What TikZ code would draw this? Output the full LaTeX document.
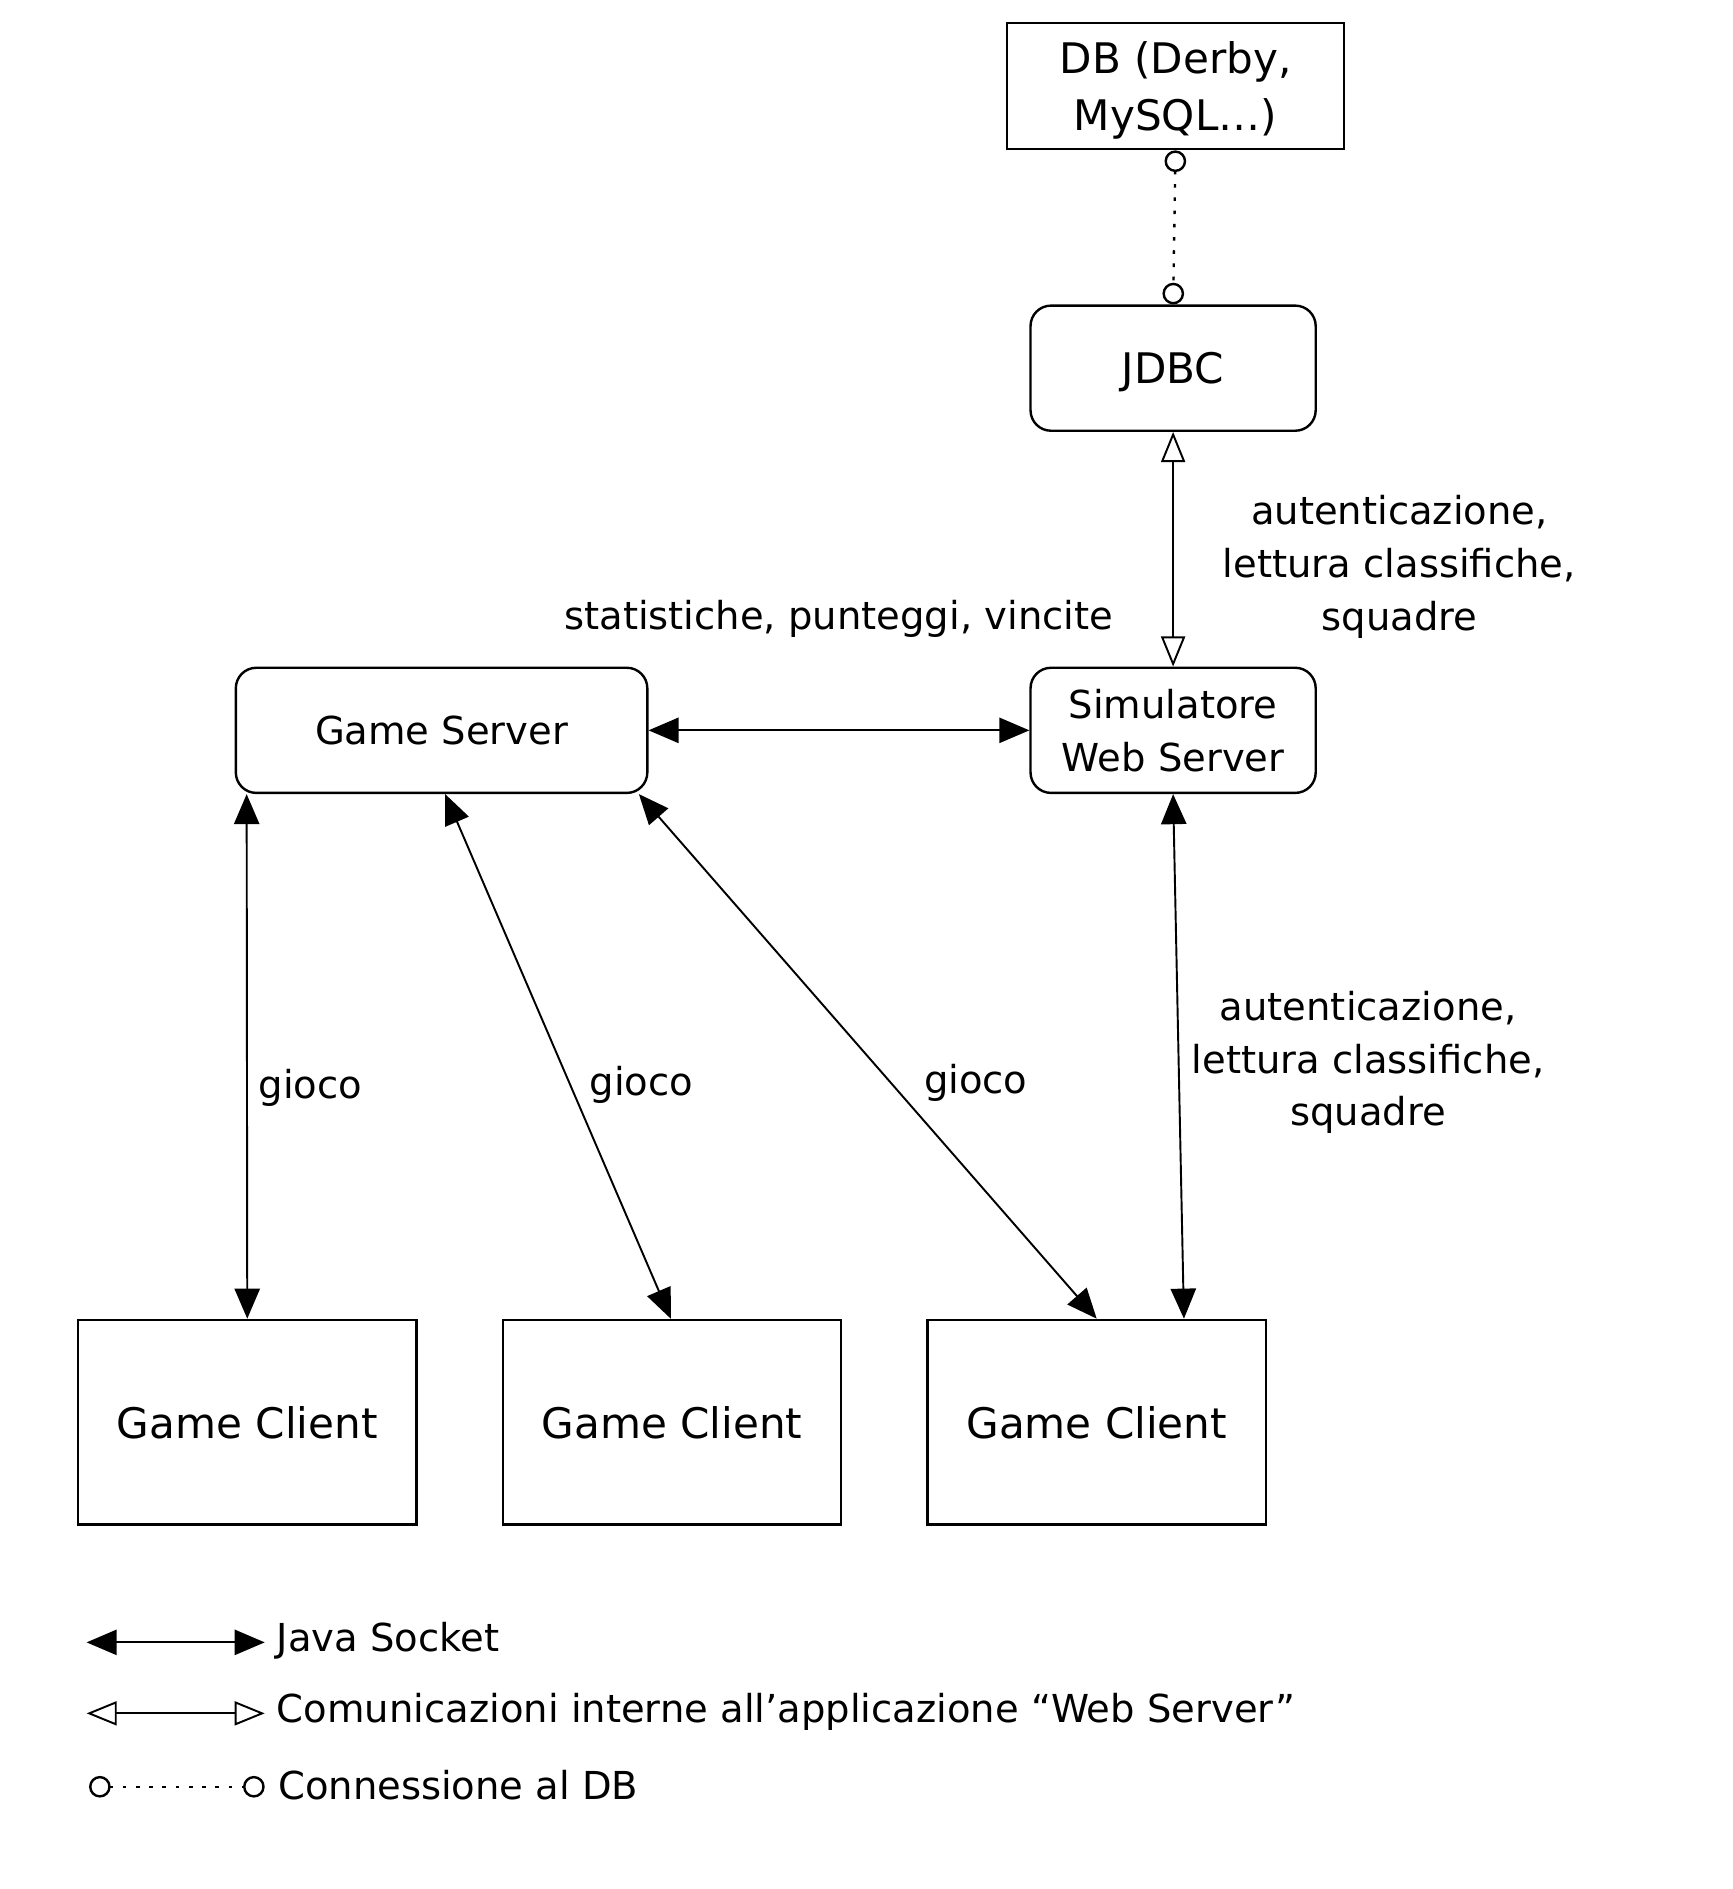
\documentclass[tikz,border=0pt]{standalone}
\usepackage{fontspec}
\setmainfont{DejaVu Sans}
\usetikzlibrary{arrows.meta}

\tikzset{
    box/.style={draw,line width=2pt,inner sep=0pt,align=center,text depth=0pt},
    rbox/.style={box,rounded corners=17pt},
    small/.style={font=\fontsize{32}{44}\selectfont},
    big/.style={font=\fontsize{35}{47}\selectfont},
    lbl/.style={small,align=center,inner sep=0pt},
    socket/.style={{Triangle[length=25pt,width=21pt]}-{Triangle[length=25pt,width=21pt]},line width=1.6pt},
    internal/.style={{Triangle[open,length=25pt,width=20pt]}-{Triangle[open,length=25pt,width=20pt]},line width=1.6pt},
    dbconn/.style={{Circle[open,length=18pt]}-{Circle[open,length=18pt]},line width=2pt,dash pattern=on 3pt off 8pt}
}

\begin{document}
\begin{tikzpicture}[x=1pt,y=-1pt]
    \useasboundingbox (0,0) rectangle (1440,1570);

    % server side
    \node[box,big,minimum width=280pt,minimum height=105pt] (db) at (977,71.5) {DB (Derby,\\MySQL\ldots)};
    \node[rbox,big,minimum width=237pt,minimum height=104pt] (jdbc) at (975,306) {JDBC};
    \node[rbox,small,minimum width=237pt,minimum height=104pt] (sim) at (975,607) {Simulatore\\Web Server};
    \node[rbox,small,minimum width=342pt,minimum height=104pt] (gs) at (367,607) {Game Server};

    % clients
    \foreach \i/\x in {1/205.5,2/558.5,3/911.5}
    {
        \node[box,big,minimum width=281pt,minimum height=170pt] (gc\i) at (\x,1182) {Game Client};
    };

    \draw[dbconn] (db.south) -- (jdbc.north);
    \draw[internal] (jdbc.south) -- (sim.north);
    \draw[socket] (gs.east) -- (sim.west);
    \draw[socket] ([xshift=10pt]gs.south west) -- (gc1.north);
    \draw[socket] ([xshift=3pt]gs.south) -- ([xshift=-1pt]gc2.north);
    \draw[socket] ([xshift=-8pt]gs.south east) -- (gc3.north);
    \draw[socket] (sim.south) -- ([xshift=-69pt]gc3.north east);

    % labels
    \node[lbl] (l_jdbc) at (1163,471) {autenticazione,\\lettura classifiche,\\squadre};
    \node[lbl] (l_stat) at (697,514) {statistiche, punteggi, vincite};
    \node[lbl] (l_g1) at (258,904) {gioco};
    \node[lbl] (l_g2) at (533,902) {gioco};
    \node[lbl] (l_g3) at (811,900) {gioco};
    \node[lbl] (l_sim) at (1137,883) {autenticazione,\\lettura classifiche,\\squadre};

    % legend
    \coordinate (js_a) at (72,1365);
    \coordinate (js_b) at (220,1365);
    \coordinate (in_a) at (72,1424);
    \coordinate (in_b) at (220,1424);
    \coordinate (db_a) at (74,1485);
    \coordinate (db_b) at (220,1485);
    \draw[socket] (js_a) -- (js_b);
    \draw[internal] (in_a) -- (in_b);
    \draw[dbconn] (db_a) -- (db_b);
    \node[lbl,anchor=west] (t_js) at (230,1364) {Java Socket};
    \node[lbl,anchor=west] (t_in) at (230,1423) {Comunicazioni interne all’applicazione “Web Server”};
    \node[lbl,anchor=west] (t_db) at (231,1484) {Connessione al DB};
\end{tikzpicture}
\end{document}
